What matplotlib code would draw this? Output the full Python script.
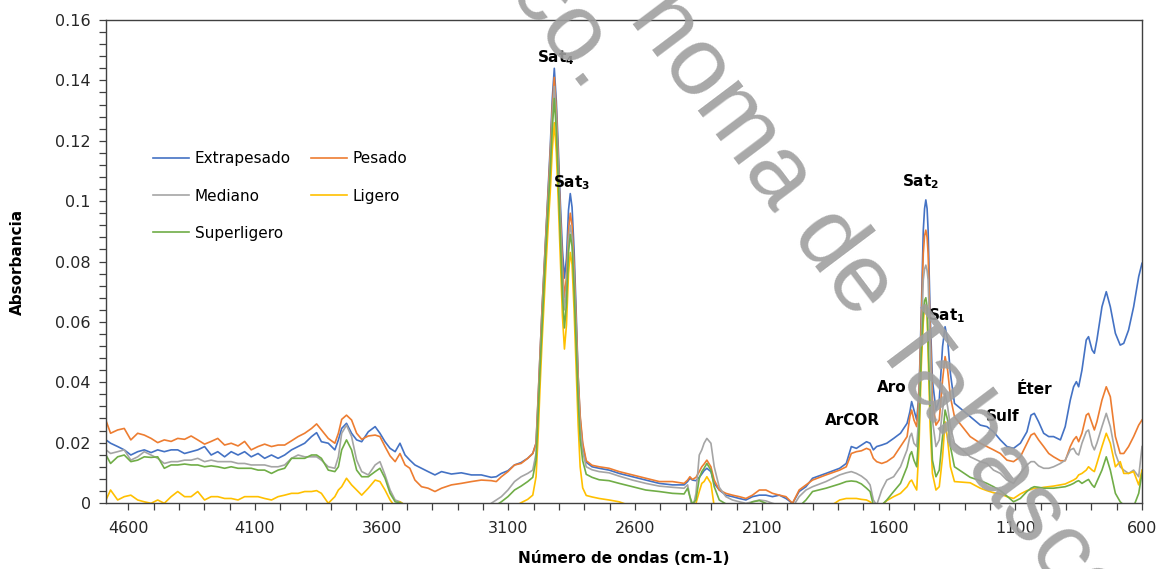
import matplotlib.pyplot as plt
from matplotlib.ticker import FuncFormatter, MultipleLocator

# FTIR spectra of five crude oil classes (absorbance vs wavenumber)
wavenumber = [
    4688, 4670, 4642, 4616, 4590, 4563, 4537, 4510, 4484, 4458, 4431, 4405, 4378, 4352, 4326, 4299,
    4273, 4247, 4220, 4194, 4167, 4141, 4115, 4088, 4062, 4035, 4009, 3983, 3956, 3930, 3904, 3877,
    3857, 3838, 3811, 3785, 3771, 3758, 3739, 3719, 3699, 3679, 3653, 3626, 3607, 3587, 3567, 3547,
    3528, 3508, 3489, 3469, 3443, 3417, 3390, 3364, 3325, 3286, 3246, 3207, 3168, 3148, 3128, 3102,
    3076, 3050, 3024, 3004, 2991,
    2983, 2975, 2967, 2959, 2951, 2943, 2935, 2927, 2919, 2911, 2903, 2895, 2887, 2879, 2871, 2863,
    2856, 2849, 2841, 2833, 2825, 2817, 2807, 2793,
    2770, 2742, 2703, 2663, 2611, 2558, 2505, 2453, 2407, 2393, 2384, 2374, 2360, 2347, 2337, 2328,
    2317, 2301, 2288, 2268, 2242, 2216, 2189, 2163, 2137, 2110, 2084, 2058, 2031, 2005, 1979, 1953,
    1926, 1900,
    1847, 1793, 1767, 1747, 1727, 1707, 1687, 1673, 1660, 1647, 1627, 1607, 1580, 1553, 1527, 1516,
    1509, 1500, 1489, 1480, 1471, 1463, 1458, 1453, 1448, 1444, 1436, 1427, 1413, 1400, 1387, 1377,
    1367, 1356, 1340,
    1278, 1238, 1212, 1186, 1159, 1133, 1107, 1080, 1054, 1038, 1025, 1008, 988, 968, 949, 922,
    903, 883, 870, 859, 850, 837, 820, 811, 797, 788, 778, 758, 741, 725, 705, 686,
    672, 653, 633, 613, 600,
]

extrapesado = [
    .0209, .0198, .0187, .0176, .0159, .0170, .0176, .0167, .0176, .0170, .0176, .0176, .0164, .0170, .0176, .0187,
    .0159, .0170, .0153, .0170, .0159, .0170, .0153, .0164, .0148, .0159, .0148, .0159, .0176, .0187, .0198, .0220,
    .0233, .0203, .0198, .0176, .0209, .0247, .0264, .0231, .0209, .0203, .0236, .0253, .0231, .0203, .0181, .0170,
    .0198, .0159, .0142, .0126, .0115, .0104, .0093, .0104, .0096, .0100, .0093, .0093, .0085, .0087, .0098, .0107,
    .0126, .0134, .0148, .0164, .0198,
    .034, .050, .065, .078, .0915, .105, .118, .134, .144, .133, .117, .099, .084, .0745, .081, .097,
    .1025, .098, .084, .064, .042, .028, .019, .0135,
    .0120, .0115, .0109, .0098, .0087, .0076, .0065, .0060, .0060, .0071, .0082, .0076, .0074, .0085, .0096, .0107,
    .0115, .0104, .0065, .0043, .0026, .0021, .0015, .0010, .0021, .0026, .0026, .0021, .0026, .0015, -.0001, .0038,
    .0054, .0082,
    .0098, .0115, .0131, .0187, .0181, .0192, .0203, .0198, .0176, .0187, .0192, .0198, .0214, .0231, .0264, .0302,
    .0336, .0308, .0275, .0363, .0628, .0904, .0975, .1004, .0975, .0904, .0628, .0407, .0308, .0341, .0518, .0584,
    .0540, .0429, .0330,
    .0286, .0258, .0253, .0236, .0209, .0187, .0181, .0198, .0236, .0291, .0297, .0269, .0231, .0220, .0220, .0209,
    .0253, .0341, .0385, .0402, .0385, .0440, .0540, .0551, .0507, .0496, .0540, .0650, .0700, .0650, .0562, .0523,
    .0529, .0573, .0650, .0750, .0794,
]

pesado = [
    .0273, .0231, .0242, .0247, .0209, .0231, .0225, .0214, .0200, .0209, .0204, .0214, .0211, .0222, .0209, .0195,
    .0204, .0214, .0192, .0198, .0189, .0204, .0176, .0187, .0195, .0187, .0192, .0192, .0206, .0220, .0231, .0247,
    .0262, .0242, .0214, .0198, .0231, .0277, .0291, .0275, .0231, .0211, .0222, .0225, .0220, .0187, .0156, .0137,
    .0164, .0126, .0115, .0076, .0054, .0049, .0038, .0049, .0060, .0065, .0071, .0076, .0074, .0071, .0087, .0104,
    .0126, .0131, .0148, .0164, .0198,
    .035, .051, .065, .078, .091, .103, .116, .131, .141, .130, .113, .095, .079, .068, .075, .090,
    .096, .092, .079, .060, .042, .029, .020, .014,
    .0125, .0120, .0115, .0104, .0093, .0082, .0071, .0071, .0065, .0076, .0087, .0078, .0085, .0104, .0120, .0129,
    .0142, .0120, .0076, .0043, .0032, .0026, .0021, .0015, .0026, .0043, .0043, .0032, .0026, .0021, -.0001, .0043,
    .0060, .0076,
    .0093, .0109, .0120, .0164, .0170, .0173, .0181, .0176, .0148, .0137, .0131, .0137, .0153, .0187, .0220, .0286,
    .0308, .0275, .0253, .0352, .0606, .0827, .0885, .0904, .0880, .0827, .0573, .0341, .0258, .0275, .0407, .0485,
    .0440, .0352, .0286,
    .0220, .0198, .0187, .0176, .0164, .0142, .0137, .0153, .0198, .0225, .0231, .0209, .0187, .0164, .0153, .0140,
    .0140, .0187, .0209, .0220, .0203, .0231, .0291, .0297, .0264, .0242, .0269, .0341, .0385, .0352, .0220, .0164,
    .0164, .0187, .0220, .0258, .0275,
]

mediano = [
    .0176, .0164, .0170, .0176, .0142, .0153, .0170, .0159, .0148, .0131, .0137, .0137, .0142, .0142, .0148, .0137,
    .0142, .0137, .0137, .0137, .0131, .0131, .0126, .0126, .0126, .0120, .0120, .0126, .0148, .0159, .0153, .0153,
    .0153, .0142, .0120, .0115, .0153, .0231, .0258, .0220, .0142, .0104, .0093, .0126, .0137, .0093, .0043, .0010,
    .0004, -.0007, -.0023, -.0035, -.004, -.004, -.004, -.004, -.004, -.004, -.004, -.0035, -.0001, .0010, .0021, .0043,
    .0071, .0087, .0098, .0109, .0164,
    .031, .047, .061, .075, .088, .100, .113, .128, .138, .127, .110, .092, .075, .064, .071, .087,
    .092, .088, .075, .056, .038, .025, .017, .012,
    .0110, .0104, .0100, .0089, .0076, .0065, .0056, .0052, .0049, .0060, .0021, -.0023, .0032, .0159, .0176, .0198,
    .0214, .0198, .0120, .0052, .0021, .0010, .0004, -.0001, .0004, .0010, .0007, -.0001, -.0007, -.0010, -.0014, .0021,
    .0043, .0054,
    .0071, .0093, .0100, .0104, .0098, .0089, .0076, .0060, .0010, -.0007, .0043, .0076, .0087, .0120, .0176, .0220,
    .0231, .0198, .0187, .0297, .0540, .0739, .0775, .0788, .0770, .0739, .0518, .0275, .0187, .0209, .0308, .0363,
    .0319, .0253, .0198,
    .0153, .0137, .0131, .0109, .0098, .0076, .0065, .0098, .0126, .0137, .0137, .0123, .0115, .0115, .0120, .0131,
    .0142, .0176, .0181, .0164, .0159, .0198, .0236, .0242, .0192, .0176, .0198, .0253, .0297, .0253, .0164, .0120,
    .0109, .0098, .0109, .0087, .0187,
]

ligero = [
    .0010, .0043, .0010, .0021, .0026, .0010, .0004, -.0001, .0010, -.0001, .0021, .0038, .0021, .0021, .0038, .0010,
    .0021, .0021, .0015, .0015, .0010, .0021, .0021, .0021, .0015, .0010, .0021, .0026, .0032, .0032, .0038, .0038,
    .0041, .0032, -.0001, .0021, .0043, .0054, .0082, .0060, .0043, .0026, .0049, .0076, .0071, .0043, .0010, -.0012,
    .0004, -.0007, -.002, -.004, -.004, -.004, -.004, -.004, -.004, -.004, -.004, -.004, -.004, -.004, -.004, -.003,
    -.0012, .0001, .0012, .0026, .0087,
    .022, .039, .054, .067, .080, .092, .103, .117, .126, .116, .099, .080, .062, .051, .059, .076,
    .083, .079, .064, .045, .026, .012, .005, .0025,
    .0020, .0015, .0010, .0004, -.0012, -.004, -.004, -.004, -.004, -.004, -.003, -.002, -.0001, .0038, .0065, .0071,
    .0087, .0065, -.0012, -.004, -.004, -.004, -.004, -.004, -.004, -.004, -.004, -.004, -.004, -.004, -.004, -.004,
    -.004, -.004,
    -.002, .0010, .0015, .0015, .0015, .0012, .0010, .0004, -.0007, -.0012, -.0007, .0008, .0021, .0032, .0054, .0071,
    .0076, .0060, .0043, .0187, .0452, .0600, .0645, .0655, .0620, .0496, .0253, .0098, .0043, .0054, .0153, .0269,
    .0209, .0120, .0071,
    .0067, .0049, .0041, .0034, .0030, .0021, .0015, .0030, .0041, .0045, .0049, .0049, .0052, .0054, .0056, .0060,
    .0063, .0071, .0076, .0082, .0093, .0098, .0109, .0120, .0109, .0104, .0131, .0187, .0231, .0198, .0120, .0137,
    .0098, .0098, .0104, .0060, .0109,
]

superligero = [
    .0159, .0131, .0153, .0159, .0137, .0142, .0153, .0151, .0153, .0115, .0126, .0126, .0129, .0126, .0126, .0120,
    .0123, .0120, .0115, .0120, .0115, .0115, .0115, .0109, .0109, .0098, .0109, .0115, .0148, .0148, .0148, .0159,
    .0159, .0148, .0109, .0104, .0120, .0176, .0209, .0176, .0109, .0087, .0087, .0104, .0115, .0082, .0032, .0004,
    .0001, -.0007, -.0023, -.0035, -.004, -.004, -.004, -.004, -.004, -.004, -.004, -.004, -.0023, -.0007, .0004, .0021,
    .0043, .0056, .0071, .0085, .0142,
    .029, .045, .059, .073, .086, .098, .110, .124, .134, .123, .106, .087, .069, .058, .066, .083,
    .089, .085, .071, .053, .034, .021, .014, .0095,
    .0085, .0077, .0074, .0065, .0054, .0043, .0038, .0032, .0030, .0049, .0021, -.0003, .0010, .0082, .0104, .0115,
    .0131, .0109, .0054, .0010, -.0003, -.0010, -.0012, -.0010, .0004, .0008, -.0001, -.0010, -.0018, -.0023, -.0023, -.0012,
    .0010, .0038,
    .0049, .0063, .0071, .0073, .0071, .0063, .0049, .0038, -.0007, -.0014, -.0007, .0010, .0038, .0065, .0120, .0159,
    .0170, .0142, .0120, .0242, .0496, .0630, .0670, .0680, .0650, .0540, .0319, .0142, .0087, .0109, .0220, .0308,
    .0275, .0187, .0120,
    .0085, .0074, .0065, .0054, .0041, .0023, .0004, .0015, .0038, .0049, .0054, .0052, .0049, .0049, .0049, .0052,
    .0054, .0060, .0065, .0071, .0074, .0065, .0074, .0078, .0060, .0052, .0071, .0109, .0153, .0109, .0032, .0004,
    -.0007, -.0018, -.0012, .0032, .0098,
]

names = ["Extrapesado", "Pesado", "Mediano", "Ligero", "Superligero"]
colors = ["#4472C4", "#ED7D31", "#A5A5A5", "#FFC000", "#70AD47"]

# band labels: (text, wavenumber, absorbance)
bands = [
    (r"Sat$_\mathbf{4}$", 2913, 0.1476),
    (r"Sat$_\mathbf{3}$", 2849, 0.1060),
    (r"Sat$_\mathbf{2}$", 1474, 0.1066),
    (r"Sat$_\mathbf{1}$", 1371, 0.0622),
    ("Aro", 1587, 0.0384),
    ("ArCOR", 1741, 0.0274),
    ("Sulf", 1149, 0.0285),
    ("Éter", 1026, 0.0376),
]

plt.rcParams["font.family"] = "DejaVu Sans"
W, H = 1158, 569
fig = plt.figure(figsize=(W / 100, H / 100), dpi=100)
ax = fig.add_axes([106 / W, 1 - 503 / H, 1036 / W, 483 / H])

handles = []
for name, values, color in zip(names, [extrapesado, pesado, mediano, ligero, superligero], colors):
    line, = ax.plot(wavenumber, values, color=color, lw=1.2, label=name, solid_joinstyle="round")
    handles.append(line)

ax.set_xlim(4688, 600)
ax.set_ylim(0, 0.16)
ax.set_xticks(list(range(4600, 599, -500)))
ax.xaxis.set_minor_locator(MultipleLocator(100))
ax.yaxis.set_major_locator(MultipleLocator(0.02))
ax.yaxis.set_minor_locator(MultipleLocator(0.004))
ax.yaxis.set_major_formatter(FuncFormatter(lambda v, p: "%g" % round(v, 3)))
ax.tick_params(which="both", direction="out", length=5, width=0.9, color="#404040",
               labelsize=11.5, labelcolor="#262626")
ax.tick_params(axis="x", pad=8)
ax.tick_params(axis="y", pad=6)
for s in ax.spines.values():
    s.set_color("#404040")
    s.set_linewidth(1.0)

ax.set_xlabel("Número de ondas (cm-1)", fontsize=11, fontweight="bold", labelpad=11)
ax.set_ylabel("Absorbancia", fontsize=11, fontweight="bold", labelpad=22)

for text, x, y in bands:
    ax.text(x, y, text, ha="center", va="center", fontsize=11, fontweight="bold")

# legend rows read left to right
order = [0, 2, 4, 1, 3]
ax.legend([handles[i] for i in order], [names[i] for i in order], ncol=2, frameon=False,
          loc="upper left", bbox_to_anchor=(0.045, 0.728), fontsize=11,
          handlelength=2.4, handletextpad=0.35, columnspacing=1.3, labelspacing=1.45,
          borderpad=0, borderaxespad=0)

# institutional watermark
wm = dict(rotation=-53, rotation_mode="anchor", va="baseline", fontsize=70,
          color="#9f9f9f", alpha=0.9, family="Liberation Sans")
fig.text(585 / W, 1 - 95 / H, "Tabasco.", ha="right", **wm)
fig.text(628 / W, 1 - 18 / H, "noma de Tabasco.", ha="left", **wm)

fig.savefig("out.png", dpi=100)
